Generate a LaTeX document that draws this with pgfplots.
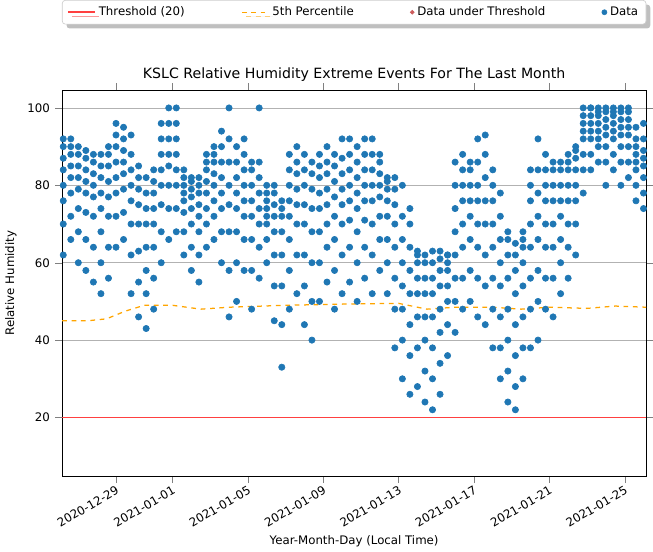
\documentclass[border=0pt]{standalone}
\usepackage{pgfplots}
\pgfplotsset{compat=1.18}
\usepackage{pgfplotstable}
\usepackage{fontspec}
\setmainfont{DejaVu Sans}
\usetikzlibrary{shadows}
\definecolor{tabblue}{HTML}{1F77B4}
\definecolor{thr}{HTML}{FF4040}
\definecolor{pct}{HTML}{FFA500}
\definecolor{under}{HTML}{CD5C5C}
\pgfplotstableread{
x a b c d e f g h
-2.8 62 70 76 80 84 87 90 92
-2.4 66 72 78 82 85 88 90 92
-2.0 60 68 74 79 82 85 88 90
-1.6 58 66 73 78 81 84 87 89
-1.2 55 64 72 77 80 83 86 88
-0.8 52 60 68 74 78 82 85 88
-0.4 56 64 72 77 81 85 88 90
0.0 64 72 78 82 86 90 93 96
0.4 66 73 79 83 86 89 92 95
0.8 52 62 70 76 80 84 88 93
1.2 46 55 63 70 75 79 82 85
1.6 43 52 58 64 70 74 78 82
2.0 48 56 64 70 74 78 81 84
2.4 60 68 75 80 84 88 92 96
2.8 66 74 80 85 88 92 96 100
3.2 68 74 80 84 88 92 96 100
3.6 62 68 73 76 78 80 82 84
4.0 58 64 70 74 77 79 81 82
4.4 55 62 68 72 75 78 80 82
4.8 64 70 74 78 81 84 86 88
5.2 66 72 76 80 83 86 88 90
5.6 60 68 74 78 82 86 90 94
6.0 46 58 68 75 80 86 92 100
6.4 50 60 68 74 78 82 86 90
6.8 58 66 72 76 80 84 88 92
7.2 48 58 66 72 76 80 84 86
7.6 56 64 70 74 78 82 86 100
8.0 60 66 70 72 74 76 78 80
8.4 45 54 62 68 72 75 78 80
8.8 33 44 54 62 68 72 74 76
9.2 48 58 66 72 76 80 84 88
9.6 52 62 70 75 79 83 86 90
10.0 44 54 62 70 75 80 84 88
10.4 40 50 60 68 74 79 83 86
10.8 50 60 68 74 78 82 85 88
11.2 55 64 70 75 79 83 86 90
11.6 48 58 66 72 77 81 85 88
12.0 52 62 70 75 79 83 87 92
12.4 55 64 71 76 80 84 88 92
12.8 50 60 68 74 78 82 86 90
13.2 56 64 71 76 80 84 88 92
13.6 52 62 70 76 80 84 88 92
14.0 58 66 72 77 80 83 86 88
14.4 52 60 66 72 76 79 81 82
14.8 38 48 56 64 70 75 79 82
15.2 30 40 48 54 60 66 72 80
15.6 26 36 44 52 58 64 70 74
16.0 28 38 46 52 56 60 62 63
16.4 24 32 40 46 52 56 60 62
16.8 22 30 38 46 52 56 60 63
17.2 26 34 42 48 54 58 61 63
17.6 36 44 50 54 58 60 62 62
18.0 42 50 56 62 68 74 80 86
18.4 48 56 64 70 76 80 84 88
18.8 50 58 66 72 76 80 84 86
19.2 46 56 64 70 76 80 86 92
19.6 44 54 62 70 76 82 88 93
20.0 38 48 56 64 70 76 80 84
20.4 30 38 46 54 60 66 72 78
20.8 24 32 40 48 56 62 66 68
21.2 22 28 36 44 52 58 62 65
21.6 30 38 46 54 60 64 66 68
22.0 38 48 56 64 70 76 80 84
22.4 40 50 58 66 72 78 84 92
22.8 48 56 64 70 76 80 84 88
23.2 46 56 64 70 76 80 84 86
23.6 52 60 66 72 76 80 84 86
24.0 56 64 70 76 80 84 86 88
24.4 62 70 76 80 84 87 89 90
24.8 78 84 88 92 94 96 98 100
25.2 84 88 92 94 96 98 100 100
25.6 86 90 92 94 96 98 99 100
26.0 80 86 90 93 95 97 99 100
26.4 84 88 92 94 96 98 99 100
26.8 80 86 90 93 95 97 99 100
27.2 82 86 90 93 95 97 99 100
27.6 76 80 84 86 88 90 92 95
28.0 74 78 82 85 87 89 92 96
}\data
\begin{document}
\begin{tikzpicture}
\begin{axis}[
  scale only axis, width=372pt, height=246pt,
  xmin=-2.86, xmax=28.14, ymin=4.8, ymax=104.6,
  xtick={0,3,7,11,15,19,23,27},
  xticklabels={2020-12-29,2021-01-01,2021-01-05,2021-01-09,2021-01-13,2021-01-17,2021-01-21,2021-01-25},
  xticklabel style={rotate=30, anchor=north east, font=\fontsize{7.5}{9}\selectfont, inner sep=1pt},
  ytick={20,40,60,80,100}, yticklabel style={font=\fontsize{7.5}{9}\selectfont},
  /pgf/number format/assume math mode=true,
  tick align=outside, ymajorgrids, grid style={gray!60},
  title={KSLC Relative Humidity Extreme Events For The Last Month},
  title style={font=\fontsize{9}{11}\selectfont, yshift=-4pt},
  xlabel={Year-Month-Day (Local Time)}, ylabel={Relative Humidity},
  label style={font=\fontsize{7.5}{9}\selectfont},
  legend columns=4,
  legend style={at={(0.5,1.17)}, anchor=south, font=\fontsize{7.5}{9}\selectfont, draw=gray!40, rounded corners=2pt, drop shadow, fill=white,
    /tikz/every even column/.append style={column sep=34pt}},
  legend cell align=left,
]
\addplot[thr, line width=1.2pt] coordinates {(-2.86,20) (28.14,20)};
\addlegendentry{Threshold (20)}
\addplot[pct, dashed, thick] coordinates {(-2.86,45) (-1.5,45) (-0.5,45.5) (0.5,47.5) (1.5,49) (3,49) (4.5,48) (6,48.5) (9,49) (12,49.3) (15,49.5) (16.5,48) (18,48.5) (20,48.5) (21.5,48) (23,48.5) (25,48.2) (26.5,48.8) (28.14,48.5)};
\addlegendentry{5th Percentile}
\addlegendimage{only marks, mark=*, mark size=1.2pt, under}
\addlegendentry{Data under Threshold}
\addlegendimage{only marks, mark=*, mark size=1.6pt, tabblue}
\addlegendentry{Data}
\foreach \c in {a,b,c,d,e,f,g,h}{
  \addplot[only marks, mark=*, mark size=2pt, tabblue, forget plot] table[x=x, y=\c] {\data};
}
\end{axis}
\end{tikzpicture}
\end{document}
